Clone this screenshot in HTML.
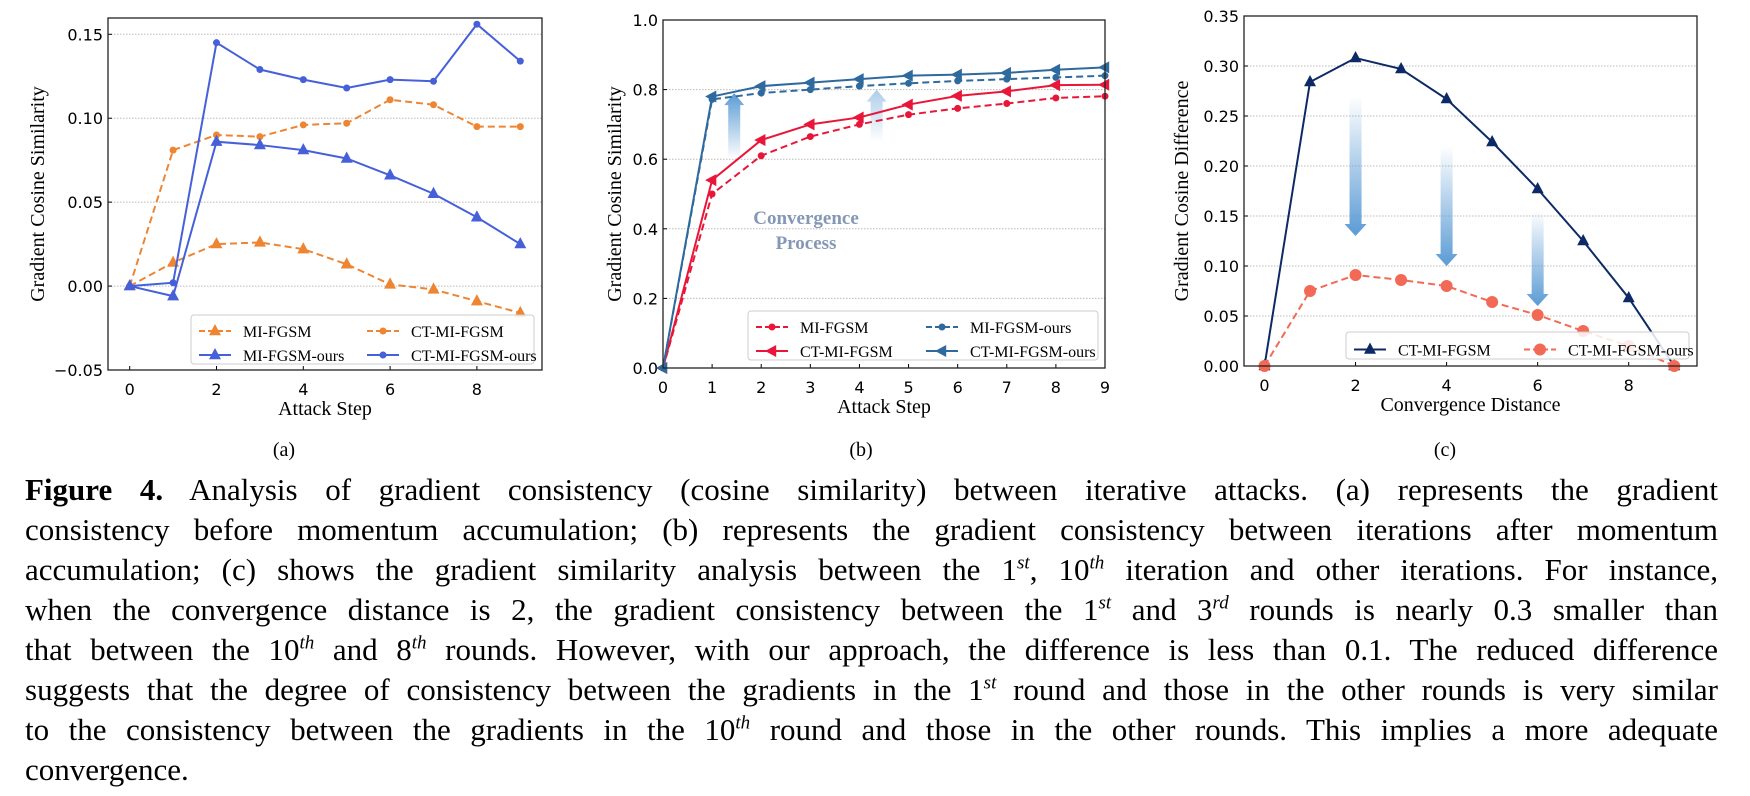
<!DOCTYPE html>
<html><head><meta charset="utf-8">
<style>
body{margin:0;background:#fff;width:1750px;height:796px;overflow:hidden;position:relative;font-family:"Liberation Serif",serif}
#cap{position:absolute;left:25px;top:470px;width:1693px;font-size:31px;line-height:40px;color:#000}
#cap .ln{text-align:justify;text-align-last:justify;white-space:nowrap;height:40px}
#cap .ln.last{text-align-last:left}
#cap sup{font-size:19px;line-height:0;font-style:italic}
</style></head><body>
<svg id="fig" width="1750" height="470" style="position:absolute;left:0;top:0" xmlns="http://www.w3.org/2000/svg">
<defs>
<linearGradient id="gUp" x1="0" y1="1" x2="0" y2="0"><stop offset="0" stop-color="#5b9bd5" stop-opacity="0"/><stop offset="1" stop-color="#5b9bd5"/></linearGradient>
<linearGradient id="gDown" x1="0" y1="0" x2="0" y2="1"><stop offset="0" stop-color="#5b9bd5" stop-opacity="0"/><stop offset="1" stop-color="#5b9bd5"/></linearGradient>
<linearGradient id="gRed" x1="0" y1="0" x2="0" y2="1"><stop offset="0" stop-color="#ff0000" stop-opacity="0.05"/><stop offset="1" stop-color="#ff0000"/></linearGradient>
</defs>
</svg>
<div id="cap">
<div class="ln"><b>Figure 4.</b> Analysis of gradient consistency (cosine similarity) between iterative attacks. (a) represents the gradient</div>
<div class="ln">consistency before momentum accumulation; (b) represents the gradient consistency between iterations after momentum</div>
<div class="ln">accumulation; (c) shows the gradient similarity analysis between the 1<sup>st</sup>, 10<sup>th</sup> iteration and other iterations. For instance,</div>
<div class="ln">when the convergence distance is 2, the gradient consistency between the 1<sup>st</sup> and 3<sup>rd</sup> rounds is nearly 0.3 smaller than</div>
<div class="ln">that between the 10<sup>th</sup> and 8<sup>th</sup> rounds. However, with our approach, the difference is less than 0.1. The reduced difference</div>
<div class="ln">suggests that the degree of consistency between the gradients in the 1<sup>st</sup> round and those in the other rounds is very similar</div>
<div class="ln">to the consistency between the gradients in the 10<sup>th</sup> round and those in the other rounds. This implies a more adequate</div>
<div class="ln last">convergence.</div>
</div>
<script>
const steps = [0,1,2,3,4,5,6,7,8,9];
const aMI = [0,0.014,0.025,0.026,0.022,0.013,0.001,-0.002,-0.009,-0.016];
const aCT = [0,0.081,0.090,0.089,0.096,0.097,0.111,0.108,0.095,0.095];
const aMIours = [0,-0.006,0.086,0.084,0.081,0.076,0.066,0.055,0.041,0.025];
const aCTours = [0,0.002,0.145,0.129,0.123,0.118,0.123,0.122,0.156,0.134];
const aYTicks = [-0.05,0,0.05,0.10,0.15];
const aXTicks = [0,2,4,6,8];
const bMI = [0,0.50,0.61,0.665,0.70,0.728,0.746,0.76,0.776,0.781];
const bCT = [0,0.54,0.655,0.70,0.72,0.757,0.782,0.795,0.813,0.814];
const bMIours = [0,0.772,0.79,0.80,0.81,0.818,0.825,0.83,0.835,0.84];
const bCTours = [0,0.78,0.81,0.82,0.83,0.84,0.843,0.848,0.857,0.864];
const bYTicks = [0,0.2,0.4,0.6,0.8,1.0];
const bXTicks = [0,1,2,3,4,5,6,7,8,9];
const cCT = [0,0.284,0.308,0.297,0.267,0.224,0.177,0.125,0.068,0.0];
const cCTours = [0,0.075,0.091,0.086,0.080,0.064,0.051,0.035,0.02,0.0];
const cYTicks = [0,0.05,0.10,0.15,0.20,0.25,0.30,0.35];
const cXTicks = [0,2,4,6,8];

const NS='http://www.w3.org/2000/svg';
const svg=document.getElementById('fig');
function mk(tag,attrs,parent,text){const e=document.createElementNS(NS,tag);for(const k in attrs)e.setAttribute(k,attrs[k]);if(text!==undefined)e.textContent=text;(parent||svg).appendChild(e);return e;}

function panel(P){
  const g=mk('g',{});
  
  
  const sx=v=>P.x0+(v-P.xmin)/(P.xmax-P.xmin)*(P.x1-P.x0);
  const sy=v=>P.y1-(v-P.ymin)/(P.ymax-P.ymin)*(P.y1-P.y0);
  P.yt.forEach((t,i)=>{
    const y=sy(t);
    if(t!==P.ymin&&t!==P.ymax){const gl=mk('line',{x1:P.x0,x2:P.x1,y1:y,y2:y,stroke:'#bbb','stroke-width':1,'stroke-dasharray':'1.5 1.5'},g);
    
    }
    mk('line',{x1:P.x0,x2:P.x0+4,y1:y,y2:y,stroke:'#000'},g);
    const tl=mk('text',{x:P.x0-5,y:y+6,'text-anchor':'end','font-size':16,'font-family':'DejaVu Sans, sans-serif'},g,P.ytl[i]);
    
    
  });
  P.xt.forEach(t=>{
    const x=sx(t);
    mk('line',{x1:x,x2:x,y1:P.y1,y2:P.y1-4,stroke:'#000'},g);
    const tl=mk('text',{x:x,y:P.y1+25,'text-anchor':'middle','font-size':16,'font-family':'DejaVu Sans, sans-serif'},g,String(t));
    
    
  });
  const yl=mk('text',{x:P.ylx,y:(P.y0+P.y1)/2,'text-anchor':'middle','font-size':20,transform:`rotate(-90 ${P.ylx} ${(P.y0+P.y1)/2})`},g,P.ylabel);
  
  
  const xl=mk('text',{x:(P.x0+P.x1)/2,y:P.y1+45,'text-anchor':'middle','font-size':20},g,P.xlabel);
  
  
  const cp=mk('text',{x:P.capx,y:456,'text-anchor':'middle','font-size':20},g,P.cap);
  
  
  if(P.extra)P.extra(g,sx,sy);
  P.series.forEach(s=>{
    const pts=s.data.map((v,i)=>sx(steps[i])+','+sy(v)).join(' ');
    const pl=mk('polyline',{points:pts,fill:'none',stroke:s.color,'stroke-width':2,'stroke-dasharray':s.dash?'7 4':'none'},g);
    
    
    s.data.forEach((v,i)=>marker(g,s,sx(steps[i]),sy(v)));
  });
  const fr=mk('rect',{x:P.x0,y:P.y0,width:P.x1-P.x0,height:P.y1-P.y0,fill:'none',stroke:'#222','stroke-width':1.3},g);
  
  
  const L=P.leg;
  const lg=mk('g',{},g);
  
  
  mk('rect',{x:L.x,y:L.y,width:L.w,height:L.h,rx:3,fill:'rgba(255,255,255,0.85)',stroke:'#ccc'},lg);
  P.series.forEach((s,i)=>{
    const col=i%L.cols,row=Math.floor(i/L.cols);
    const lx=L.x+8+col*L.cw, ly=L.y+L.rh*(row+0.5)+4;
    const e=mk('g',{},lg);
    
    
    mk('line',{x1:lx,x2:lx+32,y1:ly,y2:ly,stroke:s.color,'stroke-width':2,'stroke-dasharray':s.dash?'6 3':'none'},e);
    marker(e,s,lx+16,ly);
    mk('text',{x:lx+44,y:ly+6,'font-size':16},e,s.label);
  });
}
function marker(g,s,x,y){
  const r=s.ms||5;
  if(s.m==='tri')mk('polygon',{points:`${x},${y-r-1} ${x-r},${y+r*0.7} ${x+r},${y+r*0.7}`,fill:s.color},g);
  else if(s.m==='ltri')mk('polygon',{points:`${x-r-1},${y} ${x+r*0.7},${y-r} ${x+r*0.7},${y+r}`,fill:s.color},g);
  else mk('circle',{cx:x,cy:y,r:r,fill:s.color},g);
}
const OR='#ee8533',BL='#4660d9',RD='#e8173a',SB='#2e6a9e',NV='#0d2a66',SA='#f26a55';
panel({name:'chart-a',x0:108,x1:542,y0:18,y1:370,xmin:-0.5,xmax:9.5,ymin:-0.05,ymax:0.1597,
  yt:aYTicks,ytl:['\u22120.05','0.00','0.05','0.10','0.15'],xt:aXTicks,ylx:44,ylabel:'Gradient Cosine Similarity',xlabel:'Attack Step',cap:'(a)',capx:284,
  series:[{label:'MI-FGSM',data:aMI,color:OR,dash:true,m:'tri',ms:6},{label:'CT-MI-FGSM',data:aCT,color:OR,dash:true,m:'dot',ms:3.5},
          {label:'MI-FGSM-ours',data:aMIours,color:BL,m:'tri',ms:6},{label:'CT-MI-FGSM-ours',data:aCTours,color:BL,m:'dot',ms:3.5}],
  leg:{x:191,y:315,w:343,h:49,cols:2,cw:168,rh:24}});
panel({name:'chart-b',x0:663,x1:1105,y0:20,y1:368,xmin:0,xmax:9,ymin:0,ymax:1,
  yt:bYTicks,ytl:['0.0','0.2','0.4','0.6','0.8','1.0'],xt:bXTicks,ylx:621,ylabel:'Gradient Cosine Similarity',xlabel:'Attack Step',cap:'(b)',capx:861,
  series:[{label:'MI-FGSM',data:bMI,color:RD,dash:true,m:'dot',ms:3.5},{label:'MI-FGSM-ours',data:bMIours,color:SB,dash:true,m:'dot',ms:3.5},
          {label:'CT-MI-FGSM',data:bCT,color:RD,m:'ltri',ms:6},{label:'CT-MI-FGSM-ours',data:bCTours,color:SB,m:'ltri',ms:6}],
  leg:{x:748,y:311,w:350,h:49,cols:2,cw:170,rh:24},
  extra:(g,sx,sy)=>{
    [[1.45,0.6,0.79,0.55],[4.35,0.65,0.80,0.70]].forEach(a=>{
      const x=sx(a[0]);
      const ar=mk('g',{},g);
      
      
      mk('line',{x1:x,x2:x,y1:sy(a[3]),y2:sy(0.18),stroke:'url(#gRed)','stroke-width':4,'stroke-dasharray':'12 5'},ar);
      const y0=sy(a[1]),y1=sy(a[2]);
      mk('path',{d:`M${x-6},${y0} L${x+6},${y0} L${x+6},${y1+12} L${x+10},${y1+12} L${x},${y1} L${x-10},${y1+12} L${x-6},${y1+12} Z`,fill:'url(#gUp)',opacity:a[0]>2?0.5:1},ar);
    });
    const t1=mk('text',{x:806,y:224,'text-anchor':'middle','font-size':19,'font-weight':'bold',fill:'#8497b6'},g,'Convergence');
    
    
    const t2=mk('text',{x:806,y:249,'text-anchor':'middle','font-size':19,'font-weight':'bold',fill:'#8497b6'},g,'Process');
    
    
  }});
panel({name:'chart-c',x0:1244,x1:1697,y0:16,y1:366,xmin:-0.45,xmax:9.5,ymin:0,ymax:0.35,
  yt:cYTicks,ytl:['0.00','0.05','0.10','0.15','0.20','0.25','0.30','0.35'],xt:cXTicks,ylx:1188,ylabel:'Gradient Cosine Difference',xlabel:'Convergence Distance',cap:'(c)',capx:1445,
  series:[{label:'CT-MI-FGSM',data:cCT,color:NV,m:'tri',ms:6},{label:'CT-MI-FGSM-ours',data:cCTours,color:SA,dash:true,m:'dot',ms:6}],
  leg:{x:1346,y:332,w:343,h:27,cols:2,cw:170,rh:27},
  extra:(g,sx,sy)=>{
    [[2,0.27,0.13],[4,0.22,0.10],[6,0.155,0.06]].forEach(a=>{
      const x=sx(a[0]),y0=sy(a[1]),y1=sy(a[2]);
      const ar=mk('path',{d:`M${x-6},${y0} L${x+6},${y0} L${x+6},${y1-12} L${x+11},${y1-12} L${x},${y1} L${x-11},${y1-12} L${x-6},${y1-12} Z`,fill:'url(#gDown)'},g);
      
      
    });
  }});
</script>
</body></html>
